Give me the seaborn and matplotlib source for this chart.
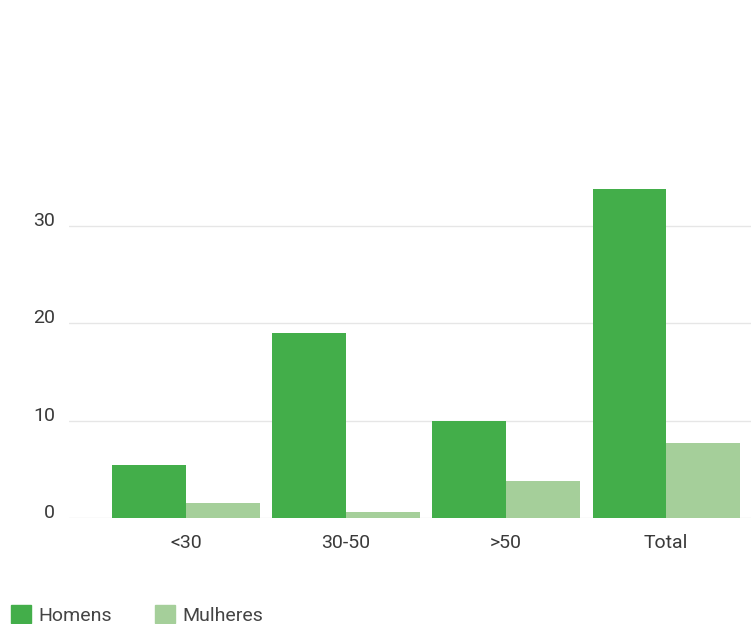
import pandas as pd
import matplotlib.pyplot as plt
import seaborn as sns

plt.rcParams["figure.dpi"] = 100
plt.rcParams["figure.figsize"] = (7.51, 6.24)

sns.set_style("white")
plt.rcParams["font.family"] = ["Roboto", "DejaVu Sans"]

categories = ["<30", "30-50", ">50", "Total"]
homens = [5.5, 19.0, 10.0, 33.8]
mulheres = [1.6, 0.65, 3.8, 7.7]
series = ["Homens", "Mulheres"]
colors = ["#43ae4a", "#a5cf9a"]
yticks = [0, 10, 20, 30]

df = pd.DataFrame(
    {
        "faixa": categories * 2,
        "valor": homens + mulheres,
        "sexo": [series[0]] * len(categories) + [series[1]] * len(categories),
    }
)

fig = plt.figure()
ax = fig.add_axes([0.0919, 0.1694, 0.9081, 0.5625])

sns.barplot(
    data=df,
    x="faixa",
    y="valor",
    hue="sexo",
    order=categories,
    hue_order=series,
    palette=colors,
    saturation=1,
    width=0.92,
    linewidth=0,
    errorbar=None,
    legend=False,
    ax=ax,
)

ax.set_xlim(-0.73, 3.53)
ax.set_ylim(0, 36)
ax.set_yticks(yticks)
ax.set_xlabel("")
ax.set_ylabel("")
ax.grid(axis="y", color="#e6e6e6", linewidth=1)
ax.set_axisbelow(True)
sns.despine(ax=ax, left=True, bottom=True)
ax.tick_params(axis="both", length=0, labelsize=14, labelcolor="#3a3a3a")
ax.tick_params(axis="y", pad=10)
ax.tick_params(axis="x", pad=11)
# y labels sit on the gridline, as in the reference
for lbl in ax.get_yticklabels():
    lbl.set_verticalalignment("baseline")

handles = [plt.Rectangle((0, 0), 1, 1, color=c) for c in colors]
fig.legend(
    handles,
    series,
    loc="lower left",
    bbox_to_anchor=(-0.008, -0.029),
    ncol=2,
    frameon=False,
    fontsize=14,
    labelcolor="#444444",
    handlelength=1.0,
    handleheight=1.0,
    handletextpad=0.4,
    columnspacing=2.2,
)

fig.savefig("out.png", dpi=100)
